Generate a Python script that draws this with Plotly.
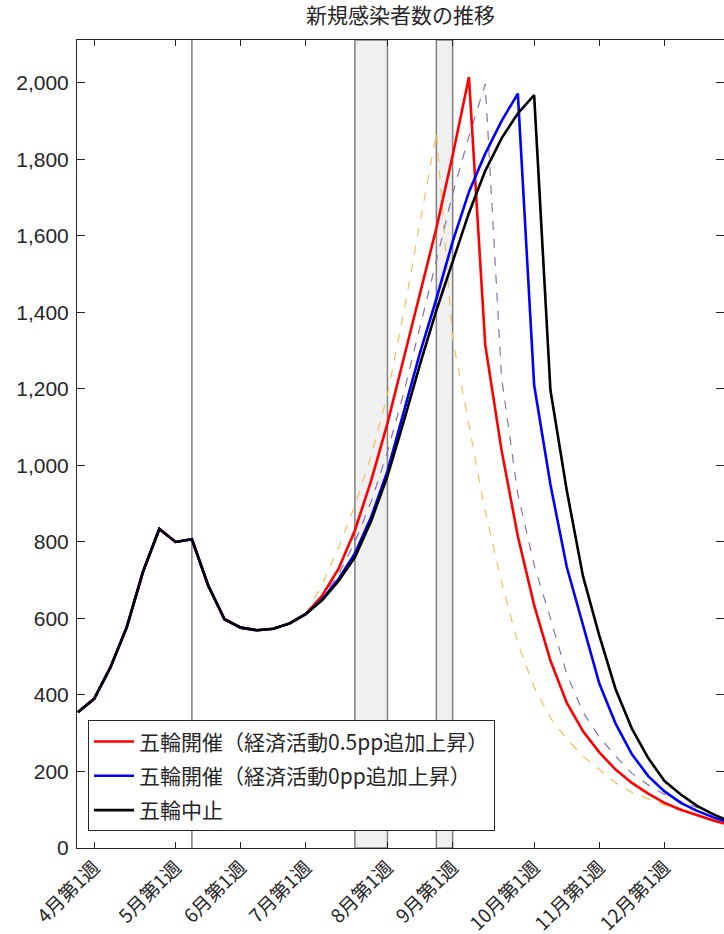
import plotly.graph_objects as go

# ---- data (weekly index 0 = late March week) ----
weeks = list(range(0, 41))
base = [355, 390, 472, 577, 722, 834, 800, 807, 686, 598, 576, 569, 573, 587, 612]  # idx 0-14 (common)

red_after = [660, 730, 830, 960, 1110, 1280, 1450, 1620, 1810, 2015,
             1315, 1040, 815, 635, 490, 380, 305, 250, 205, 170, 142, 118, 100, 85, 72, 60]
blue_after = [650, 703, 770, 865, 985, 1140, 1295, 1435, 1585, 1715, 1815, 1900, 1972,
              1210, 950, 735, 580, 430, 325, 245, 188, 148, 118, 97, 80, 66]
black_after = [648, 698, 760, 855, 972, 1115, 1265, 1405, 1535, 1660, 1770, 1855, 1920, 1968,
               1197, 935, 710, 555, 415, 312, 235, 175, 140, 110, 88, 70]
purple_after = [655, 715, 800, 905, 1035, 1190, 1360, 1535, 1710, 1860, 1997,
                1230, 925, 740, 600, 455, 355, 290, 240, 195, 165, 140, 122, 105, 90, 76]
orange_after = [690, 785, 895, 1025, 1185, 1400, 1635, 1870,
                1330, 1110, 880, 695, 535, 420, 340, 285, 240, 205, 170, 145, 128, 112, 98, 86, 75, 66]

tick_weeks = [1, 6, 10, 14, 19, 23, 28, 32, 36]
tick_labels = ["4月第1週", "5月第1週", "6月第1週", "7月第1週", "8月第1週",
               "9月第1週", "10月第1週", "11月第1週", "12月第1週"]

emergency_week = 7
bands = [(17, 19), (22, 23)]

names = ["五輪開催（経済活動0.5pp追加上昇）", "五輪開催（経済活動0pp追加上昇）", "五輪中止"]
title = "新規感染者数の推移"

CJK = "Noto Sans CJK JP"
TXT = "#262626"

fig = go.Figure()

fig.add_trace(go.Scatter(x=weeks, y=base + orange_after, mode="lines",
                         line=dict(color="#f0c060", width=1.2, dash="dash"), showlegend=False))
fig.add_trace(go.Scatter(x=weeks, y=base + purple_after, mode="lines",
                         line=dict(color="#8a70b0", width=1.2, dash="dash"), showlegend=False))
fig.add_trace(go.Scatter(x=weeks, y=base + red_after, mode="lines", name=names[0],
                         legendgroup="a", line=dict(color="#ff0000", width=2.6)))
fig.add_trace(go.Scatter(x=weeks, y=base + blue_after, mode="lines", name=names[1],
                         legendgroup="b", line=dict(color="#0000ff", width=2.6)))
fig.add_trace(go.Scatter(x=weeks, y=base + black_after, mode="lines", name=names[2],
                         legendgroup="c", line=dict(color="#000000", width=2.6)))

shapes = []
for (a, b) in bands:
    shapes.append(dict(type="rect", xref="x", yref="paper", x0=a, x1=b, y0=0, y1=1,
                       fillcolor="#f0f0f0", line=dict(color="#808080", width=1.5), layer="below"))
shapes.append(dict(type="line", xref="x", yref="paper", x0=emergency_week, x1=emergency_week,
                   y0=0, y1=1, line=dict(color="#808080", width=1.5), layer="below"))

fig.update_layout(
    width=724, height=934,
    margin=dict(l=77, r=0, t=40, b=86),
    paper_bgcolor="white", plot_bgcolor="white",
    shapes=shapes,
    title=dict(text=title, x=0.5, xref="paper", xanchor="center",
               y=1 - 16 / 934, yref="container", yanchor="middle",
               font=dict(family=CJK, size=21, color=TXT)),
    xaxis=dict(range=[-0.05, 39.65], tickvals=tick_weeks, ticktext=tick_labels,
               tickangle=-45, ticks="inside", ticklen=6, tickcolor=TXT,
               showline=True, linecolor=TXT, linewidth=1, mirror="ticks",
               showgrid=False, zeroline=False,
               tickfont=dict(family=CJK, size=19, color=TXT)),
    yaxis=dict(range=[0, 2112], dtick=200, tickformat=",", ticks="inside", ticklen=8,
               tickcolor=TXT, showline=True, linecolor=TXT, linewidth=1, mirror="ticks",
               showgrid=False, zeroline=False, ticklabelstandoff=3,
               tickfont=dict(family="Liberation Sans, Arial", size=21, color=TXT)),
    legend=dict(x=0.017, y=0.158, xanchor="left", yanchor="top",
                bordercolor=TXT, borderwidth=1, bgcolor="white",
                font=dict(family=CJK, size=21, color=TXT),
                itemwidth=40,
                traceorder="grouped", tracegroupgap=4),
    showlegend=True,
)

fig.write_html("out.html", config={"displayModeBar": False},
               post_script="document.body.style.margin='0';")
